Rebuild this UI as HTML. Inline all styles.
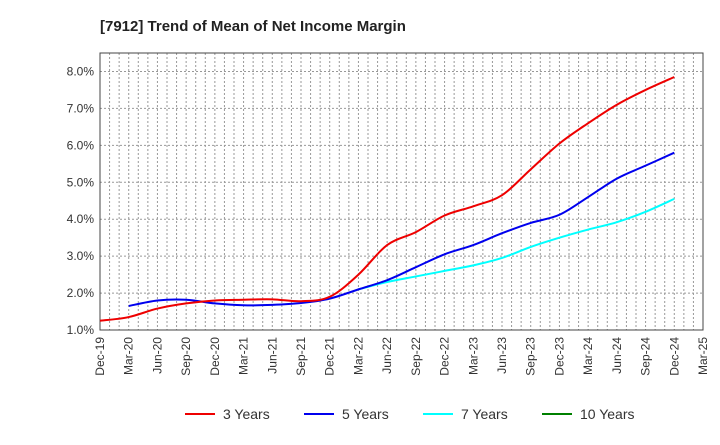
<!DOCTYPE html>
<html><head><meta charset="utf-8"><style>
body{margin:0;background:#fff;font-family:"Liberation Sans",sans-serif}
</style></head><body>
<svg id="chart" width="720" height="440" xmlns="http://www.w3.org/2000/svg" font-family="Liberation Sans, sans-serif">
<text x="100" y="31" font-size="15" font-weight="bold" fill="#222">[7912]  Trend of Mean of Net Income Margin</text>
<g id="grid"></g><g id="axes"></g><g id="series"></g><g id="legend"></g>
</svg>
<script>
const xLabels=["Dec-19","Mar-20","Jun-20","Sep-20","Dec-20","Mar-21","Jun-21","Sep-21","Dec-21","Mar-22","Jun-22","Sep-22","Dec-22","Mar-23","Jun-23","Sep-23","Dec-23","Mar-24","Jun-24","Sep-24","Dec-24","Mar-25"];
const yTicks=[1,2,3,4,5,6,7,8];
const s3=[1.25,1.35,1.58,1.72,1.8,1.82,1.83,1.78,1.9,2.5,3.3,3.65,4.1,4.35,4.65,5.35,6.05,6.6,7.1,7.5,7.85];
const s5=[null,1.65,1.8,1.82,1.72,1.67,1.68,1.73,1.85,2.1,2.35,2.7,3.05,3.3,3.62,3.9,4.12,4.6,5.1,5.45,5.8];
const s7=[null,null,null,null,null,null,null,null,null,2.1,2.3,2.45,2.6,2.75,2.95,3.25,3.5,3.72,3.92,4.2,4.55];
const s10=[];
const L=100,R=703,T=53,B=330,yMin=1,yMax=8.5;
const NS="http://www.w3.org/2000/svg";
function X(i){return L+i*(R-L)/(xLabels.length-1);}
function Y(v){return B-(v-yMin)/(yMax-yMin)*(B-T);}
function mk(t,a,p){const e=document.createElementNS(NS,t);for(const k in a)e.setAttribute(k,a[k]);p.appendChild(e);return e;}
const grid=document.getElementById('grid'),axes=document.getElementById('axes');
for(let m=1;m<(xLabels.length-1)*3;m++){const x=L+m*(R-L)/((xLabels.length-1)*3);
 const l=mk('line',{x1:x,x2:x,y1:T,y2:B,stroke:'#999','stroke-dasharray':'2,2','stroke-width':1},grid);
 }
yTicks.forEach(v=>{const y=Y(v);
 const l=mk('line',{x1:L,x2:R,y1:y,y2:y,stroke:'#999','stroke-dasharray':'2,2'},grid);
 
 const t=mk('text',{x:L-6,y:y+4,'text-anchor':'end','font-size':12,fill:'#333'},axes);t.textContent=v.toFixed(1)+'%';
 });
xLabels.forEach((s,i)=>{const x=X(i);
 const t=mk('text',{x:x+4,y:B+7,'text-anchor':'end','font-size':12,fill:'#333',transform:`rotate(-90 ${x+4} ${B+7})`},axes);t.textContent=s;
 });
const fr=mk('rect',{x:L,y:T,width:R-L,height:B-T,fill:'none',stroke:'#444'},axes);

function path(data){const p=[];data.forEach((v,i)=>{if(v!=null)p.push([X(i),Y(v)]);});
 if(p.length<2)return '';let d=`M${p[0][0]},${p[0][1]}`;
 for(let i=0;i<p.length-1;i++){const p0=p[i-1]||p[i],p1=p[i],p2=p[i+1],p3=p[i+2]||p2;
  d+=` C${p1[0]+(p2[0]-p0[0])/6},${p1[1]+(p2[1]-p0[1])/6} ${p2[0]-(p3[0]-p1[0])/6},${p2[1]-(p3[1]-p1[1])/6} ${p2[0]},${p2[1]}`;}
 return d;}
const ser=document.getElementById('series');
[[s7,'#00ffff','series-7-years'],[s5,'#0000ee','series-5-years'],[s3,'#ee0000','series-3-years'],[s10,'#008000','series-10-years']].forEach(([d,c,n])=>{
 const dd=path(d);if(!dd)return;const e=mk('path',{d:dd,fill:'none',stroke:c,'stroke-width':2},ser);
 });
const lg=document.getElementById('legend');
[['3 Years','#ee0000',185],['5 Years','#0000ee',304],['7 Years','#00ffff',423],['10 Years','#008000',542]].forEach(([t,c,x])=>{
 const g=mk('g',{},lg);
 mk('line',{x1:x,x2:x+30,y1:414,y2:414,stroke:c,'stroke-width':2},g);
 const tx=mk('text',{x:x+38,y:419,'font-size':14,fill:'#333'},g);tx.textContent=t;});
</script>
</body></html>
